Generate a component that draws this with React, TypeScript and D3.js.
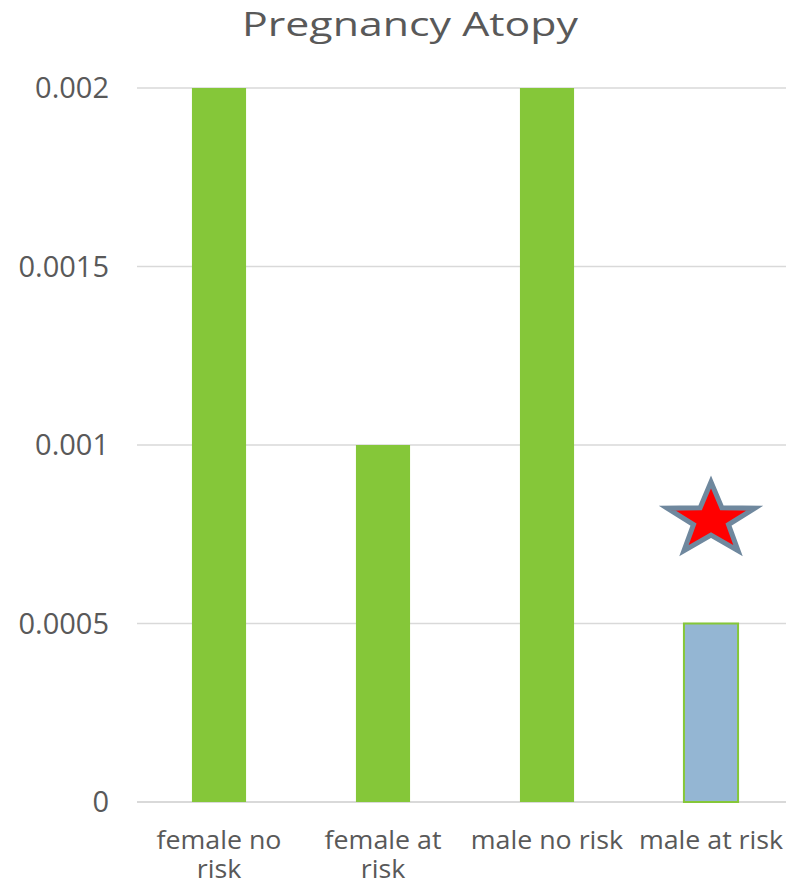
import React from "react";
import * as d3 from "d3";

// Chart data
const categories = ["female no risk", "female at risk", "male no risk", "male at risk"];
const values = [0.002, 0.001, 0.002, 0.0005];
const highlighted = [false, false, false, true];
const yTicks = [0, 0.0005, 0.001, 0.0015, 0.002];
const yTickLabels = ["0", "0.0005", "0.001", "0.0015", "0.002"];
const title = "Pregnancy Atopy";
// Marker drawn above the flagged category
const starCategory = "male at risk";
const starValue = 0.00079;

const W = 786;
const H = 886;
const FONT = "'Open Sans', 'DejaVu Sans', sans-serif";
const TEXT = "#595959";
const GRID = "#d9d9d9";
const GREEN = "#85c739";
const BLUE = "#94b6d3";

// Greedy word-wrap by measured width
function wrap(label: string, maxW: number, font: string): string[] {
  const ctx = document.createElement("canvas").getContext("2d")!;
  ctx.font = font;
  const words = label.split(" ");
  const lines: string[] = [];
  let cur = "";
  for (const w of words) {
    const test = cur ? cur + " " + w : w;
    if (cur && ctx.measureText(test).width > maxW) {
      lines.push(cur);
      cur = w;
    } else cur = test;
  }
  if (cur) lines.push(cur);
  return lines;
}

function starPath(cx: number, cy: number, rx: number, ry: number, inner: number) {
  const pts: [number, number][] = [];
  for (let i = 0; i < 10; i++) {
    const a = -Math.PI / 2 + (i * Math.PI) / 5;
    const r = i % 2 === 0 ? 1 : inner;
    pts.push([cx + Math.cos(a) * rx * r, cy + Math.sin(a) * ry * r]);
  }
  return d3.line()(pts)! + "Z";
}

export default function App() {
  const left = 137;
  const right = 793;
  const top = 88;
  const bottom = 802;

  const x = d3.scaleBand<string>().domain(categories).range([left, right]).paddingInner(0.67).paddingOuter(0.335);
  const y = d3.scaleLinear().domain([0, 0.002]).range([bottom, top]);
  const bw = x.bandwidth();

  const labelFontSize = 26;
  const labelFont = `${labelFontSize}px 'Open Sans'`;
  const labelStretch = 1.03;
  const lineGap = 29;

  const sx = x(starCategory)! + bw / 2;
  const sy = y(starValue);

  return (
    <svg width={W} height={H} style={{ position: "absolute", left: 0, top: 0, background: "#fff" }} fontFamily={FONT}>
      <text x={410} y={36} textAnchor="middle" fontSize={32} fill={TEXT} textLength={336} lengthAdjust="spacingAndGlyphs">
        {title}
      </text>

      {yTicks.map((t, i) => (
        <g key={t}>
          <line x1={left} x2={W} y1={y(t)} y2={y(t)} stroke={GRID} strokeWidth={i === 0 ? 2 : 1.5} />
          <text x={109} y={y(t)} dy="0.36em" textAnchor="end" fontSize={29} fill={TEXT}>
            {yTickLabels[i]}
          </text>
        </g>
      ))}

      {categories.map((c, i) => (
        <rect
          key={c}
          x={x(c)!}
          y={y(values[i])}
          width={bw}
          height={y(0) - y(values[i])}
          fill={highlighted[i] ? BLUE : GREEN}
          stroke={highlighted[i] ? GREEN : "none"}
          strokeWidth={2}
        />
      ))}

      {categories.map((c) => {
        const lines = wrap(c, 155 / labelStretch, labelFont);
        const cx = x(c)! + bw / 2;
        return (
          <g key={c}>
            {lines.map((l, j) => (
              <text
                key={j}
                transform={`translate(${cx},${849 + j * lineGap}) scale(${labelStretch},1)`}
                textAnchor="middle"
                fontSize={labelFontSize}
                fill={TEXT}
              >
                {l}
              </text>
            ))}
          </g>
        );
      })}

      <path d={starPath(sx, sy, 46, 38, 0.4)} fill="#ff0000" stroke="#6f889e" strokeWidth={5} strokeLinejoin="miter" />
    </svg>
  );
}
